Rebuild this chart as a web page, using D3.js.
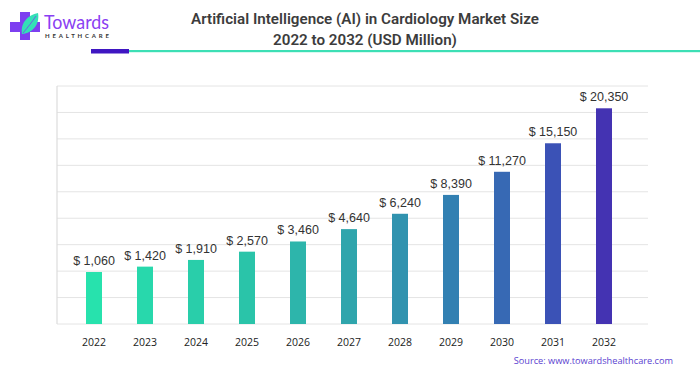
<!DOCTYPE html>
<html lang="en">
<head>
  <meta charset="UTF-8">
  <title>AI in Cardiology Market Size</title>
  <style>
    body { margin: 0; background: #fff; }
    svg { display: block; }
  </style>
</head>
<body>
  <script src="https://d3js.org/d3.v7.min.js"></script>
  <script>
    const years = ['2022', '2023', '2024', '2025', '2026', '2027', '2028', '2029', '2030', '2031', '2032'];
    const marketSize = [1060, 1420, 1910, 2570, 3460, 4640, 6240, 8390, 11270, 15150, 20350];
    const gridLines = d3.range(0, 10);

    const width = 700, height = 375;
    const baseY = 324, topY = 86;

    const svg = d3.select('body').append('svg')
      .attr('width', width)
      .attr('height', height);

    // logo
    const logo = svg.append('g');
    logo.append('path')
      .attr('d', 'M20,12 h10 v10 h10 v10 h-10 v8 h-10 v-8 h-10 v-10 h10 z')
      .attr('fill', '#7d3ff0');
    logo.append('path')
      .attr('d', 'M22,34 C20,23 28,15 38,13 C40,24 33,33 22,34 z')
      .attr('fill', '#33e0b6');
    logo.append('path')
      .attr('d', 'M23,33 C28,27 32,22 36,16')
      .attr('stroke', '#7d3ff0')
      .attr('stroke-width', 0.8)
      .attr('fill', 'none');
    logo.append('text')
      .attr('x', 44).attr('y', 29)
      .attr('font-family', 'Lato, sans-serif')
      .attr('font-size', 19)
      .attr('textLength', 65)
      .attr('lengthAdjust', 'spacingAndGlyphs')
      .attr('fill', '#8a40f2')
      .text('Towards');
    logo.append('text')
      .attr('x', 45).attr('y', 38)
      .attr('font-family', 'Lato, sans-serif')
      .attr('font-size', 6)
      .attr('font-weight', 700)
      .attr('textLength', 64)
      .attr('fill', '#333')
      .text('HEALTHCARE');

    // title
    const title = svg.append('text')
      .attr('text-anchor', 'middle')
      .attr('font-family', 'Roboto, sans-serif')
      .attr('font-weight', 600)
      .attr('font-size', 15.2)
      .attr('fill', '#3c3c3c');
    title.append('tspan').attr('x', 365).attr('y', 24)
      .text('Artificial Intelligence (AI) in Cardiology Market Size');
    title.append('tspan').attr('x', 365).attr('y', 45)
      .text('2022 to 2032 (USD Million)');

    // divider under title
    svg.append('rect').attr('x', 129).attr('y', 50).attr('width', 571).attr('height', 2.2).attr('fill', '#3ddfb5');
    svg.append('rect').attr('x', 91).attr('y', 49).attr('width', 38).attr('height', 4.5).attr('fill', '#3f16c2');

    // scales
    const x = d3.scalePoint()
      .domain(years)
      .range([94, 604]);

    // bar heights in the source grow roughly as value^0.7 above a fixed floor
    const y = d3.scalePow()
      .exponent(0.7)
      .domain([0, 20350])
      .range([baseY - 28.3, 108.3]);

    const grid = d3.scaleLinear()
      .domain([0, 9])
      .range([baseY, topY]);

    const color = d3.scaleLinear()
      .domain([0, 3, 5, 7, 9, 10])
      .range(['#27e2ad', '#2ac4a9', '#2fa5ac', '#3280b2', '#3b52b6', '#4433b2'])
      .interpolate(d3.interpolateRgb);

    // grid
    svg.append('g')
      .selectAll('line')
      .data(gridLines)
      .join('line')
      .attr('x1', 57).attr('x2', 648)
      .attr('y1', d => grid(d)).attr('y2', d => grid(d))
      .attr('stroke', '#e4e4e4')
      .attr('stroke-width', 1);

    svg.append('line')
      .attr('x1', 57).attr('x2', 57)
      .attr('y1', topY).attr('y2', baseY)
      .attr('stroke', '#dcdcdc')
      .attr('stroke-width', 1.2);

    // bars
    const barW = 16;
    svg.append('g')
      .selectAll('rect')
      .data(marketSize)
      .join('rect')
      .attr('x', (d, i) => x(years[i]) - barW / 2)
      .attr('y', d => y(d))
      .attr('width', barW)
      .attr('height', d => baseY - y(d))
      .attr('fill', (d, i) => color(i));

    // value labels
    svg.append('g')
      .selectAll('text')
      .data(marketSize)
      .join('text')
      .attr('x', (d, i) => x(years[i]))
      .attr('y', d => y(d) - 7)
      .attr('text-anchor', 'middle')
      .attr('font-family', 'Liberation Sans, Arial, sans-serif')
      .attr('font-size', 12.5)
      .attr('fill', '#333')
      .text(d => '$ ' + d3.format(',')(d));

    // x axis labels
    svg.append('g')
      .selectAll('text')
      .data(years)
      .join('text')
      .attr('x', d => x(d))
      .attr('y', 345.5)
      .attr('text-anchor', 'middle')
      .attr('font-family', 'Open Sans, sans-serif')
      .attr('font-size', 10.5)
      .attr('fill', '#222')
      .text(d => d);

    svg.append('text')
      .attr('x', 673).attr('y', 364)
      .attr('text-anchor', 'end')
      .attr('font-family', 'Open Sans, sans-serif')
      .attr('font-size', 9.2)
      .attr('fill', '#5a3fd0')
      .text('Source: www.towardshealthcare.com');
  </script>
</body>
</html>
